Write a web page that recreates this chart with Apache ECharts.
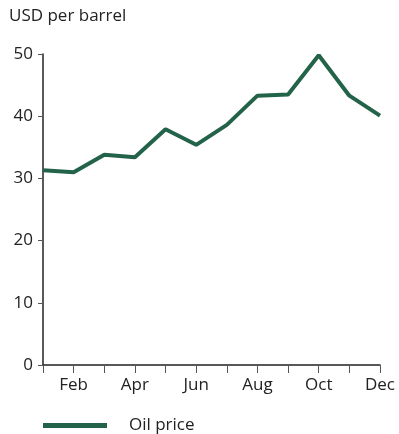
<!DOCTYPE html>
<html>
<head>
<meta charset="utf-8">
<script src="https://cdn.jsdelivr.net/npm/echarts@6/dist/echarts.min.js"></script>
<style>
  html, body { margin: 0; padding: 0; background: #fff; }
  #main { width: 399px; height: 434px; }
</style>
</head>
<body>
<div id="main"></div>
<script>
var months = ['Jan', 'Feb', 'Mar', 'Apr', 'May', 'Jun', 'Jul', 'Aug', 'Sep', 'Oct', 'Nov', 'Dec'];
var oilPrice = [31.3, 31.0, 33.8, 33.4, 37.9, 35.4, 38.6, 43.3, 43.5, 49.8, 43.3, 40.1];
var yTicks = [0, 10, 20, 30, 40, 50];

var chart = echarts.init(document.getElementById('main'), null, { renderer: 'canvas' });

var option = {
  animation: false,
  textStyle: { fontFamily: 'Open Sans', color: '#222' },
  title: {
    text: 'USD per barrel',
    left: 9,
    top: 8,
    padding: 0,
    textStyle: { fontSize: 17, fontWeight: 'normal', color: '#222', fontFamily: 'Open Sans' }
  },
  grid: { left: 43, right: 19, top: 54, bottom: 69, containLabel: false },
  legend: {
    data: ['Oil price'],
    left: 43,
    top: 417,
    padding: 0,
    icon: 'rect',
    itemWidth: 64,
    itemHeight: 5,
    textStyle: { fontSize: 17, color: '#222', padding: [0, 0, 0, 17] }
  },
  xAxis: {
    type: 'category',
    data: months,
    boundaryGap: false,
    axisLine: { lineStyle: { color: '#222', width: 1.5 } },
    axisTick: { show: true, interval: 0, length: 8, lineStyle: { color: '#555' } },
    axisLabel: {
      interval: function (idx) { return idx % 2 === 1; },
      fontSize: 17,
      color: '#222',
      margin: 12
    },
    splitLine: { show: false }
  },
  yAxis: {
    type: 'value',
    min: yTicks[0],
    max: yTicks[yTicks.length - 1],
    interval: 10,
    axisLine: { show: true, lineStyle: { color: '#222', width: 1.5 } },
    axisTick: { show: true, length: 5, lineStyle: { color: '#555' } },
    axisLabel: { fontSize: 17, color: '#222', margin: 10 },
    splitLine: { show: false }
  },
  series: [{
    name: 'Oil price',
    type: 'line',
    data: oilPrice,
    symbol: 'none',
    lineStyle: { color: '#236349', width: 4 },
    itemStyle: { color: '#236349' }
  }]
};

chart.setOption(option);
</script>
</body>
</html>
